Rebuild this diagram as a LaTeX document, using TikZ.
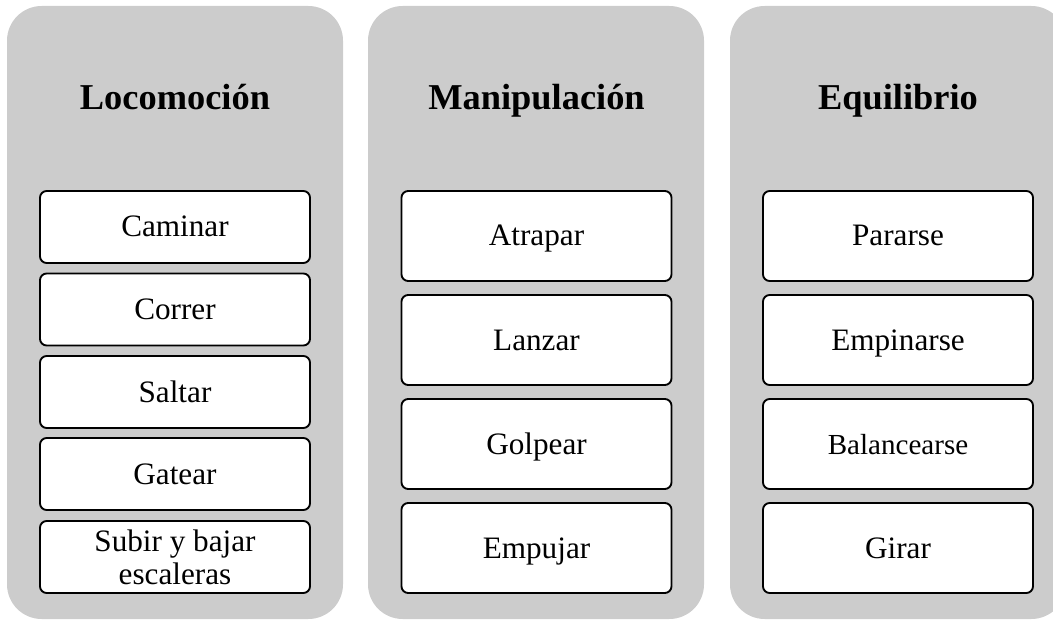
\documentclass[tikz,border=0pt]{standalone}
\usepackage{fontspec}
\setmainfont{Liberation Serif}
\usepackage{xcolor}
\definecolor{panelgray}{HTML}{CCCCCC}

\tikzset{
  panel/.style={fill=panelgray, rounded corners=26pt},
  title/.style={anchor=base, font=\fontsize{27.3}{30}\selectfont\bfseries},
  item/.style={draw, line width=1.4pt, fill=white, rounded corners=5pt,
    inner sep=0pt, minimum width=202.5pt, align=center,
    text height=17pt, text depth=2pt,
    font=\fontsize{23.4}{25}\selectfont},
  small/.style={minimum height=54pt},
  big/.style={minimum height=67.5pt}
}

\begin{document}
\begin{tikzpicture}[x=0.75pt,y=-0.75pt]
\clip (0,0) rectangle (1053,620);

% grey columns
\fill[panel] (7,6) rectangle (343,619);
\fill[panel] (368,6) rectangle (704,619);
\fill[panel] (730,6) rectangle (1066,619);

% titles
\node[title] (loco) at (175,110) {Locomoción};
\node[title] (mani) at (536.5,110) {Manipulación};
\node[title] (equi) at (898,110) {Equilibrio};

% first column
\node[item,small] (caminar) at (175,227) {Caminar};
\node[item,small] (correr) at (175,309.5) {Correr};
\node[item,small] (saltar) at (175,392) {Saltar};
\node[item,small] (gatear) at (175,474) {Gatear};
\node[item,small,text height=,text depth=] (subir) at (175,557) {Subir y bajar\\escaleras};

% second column
\node[item,big] (atrapar) at (536.5,236) {Atrapar};
\node[item,big] (lanzar) at (536.5,340) {Lanzar};
\node[item,big] (golpear) at (536.5,444) {Golpear};
\node[item,big] (empujar) at (536.5,548) {Empujar};

% third column
\node[item,big] (pararse) at (898,236) {Pararse};
\node[item,big] (empinarse) at (898,340) {Empinarse};
\node[item,big,font=\fontsize{21.8}{24}\selectfont] (balancearse) at (898,444) {Balancearse};
\node[item,big] (girar) at (898,548) {Girar};
\end{tikzpicture}
\end{document}
